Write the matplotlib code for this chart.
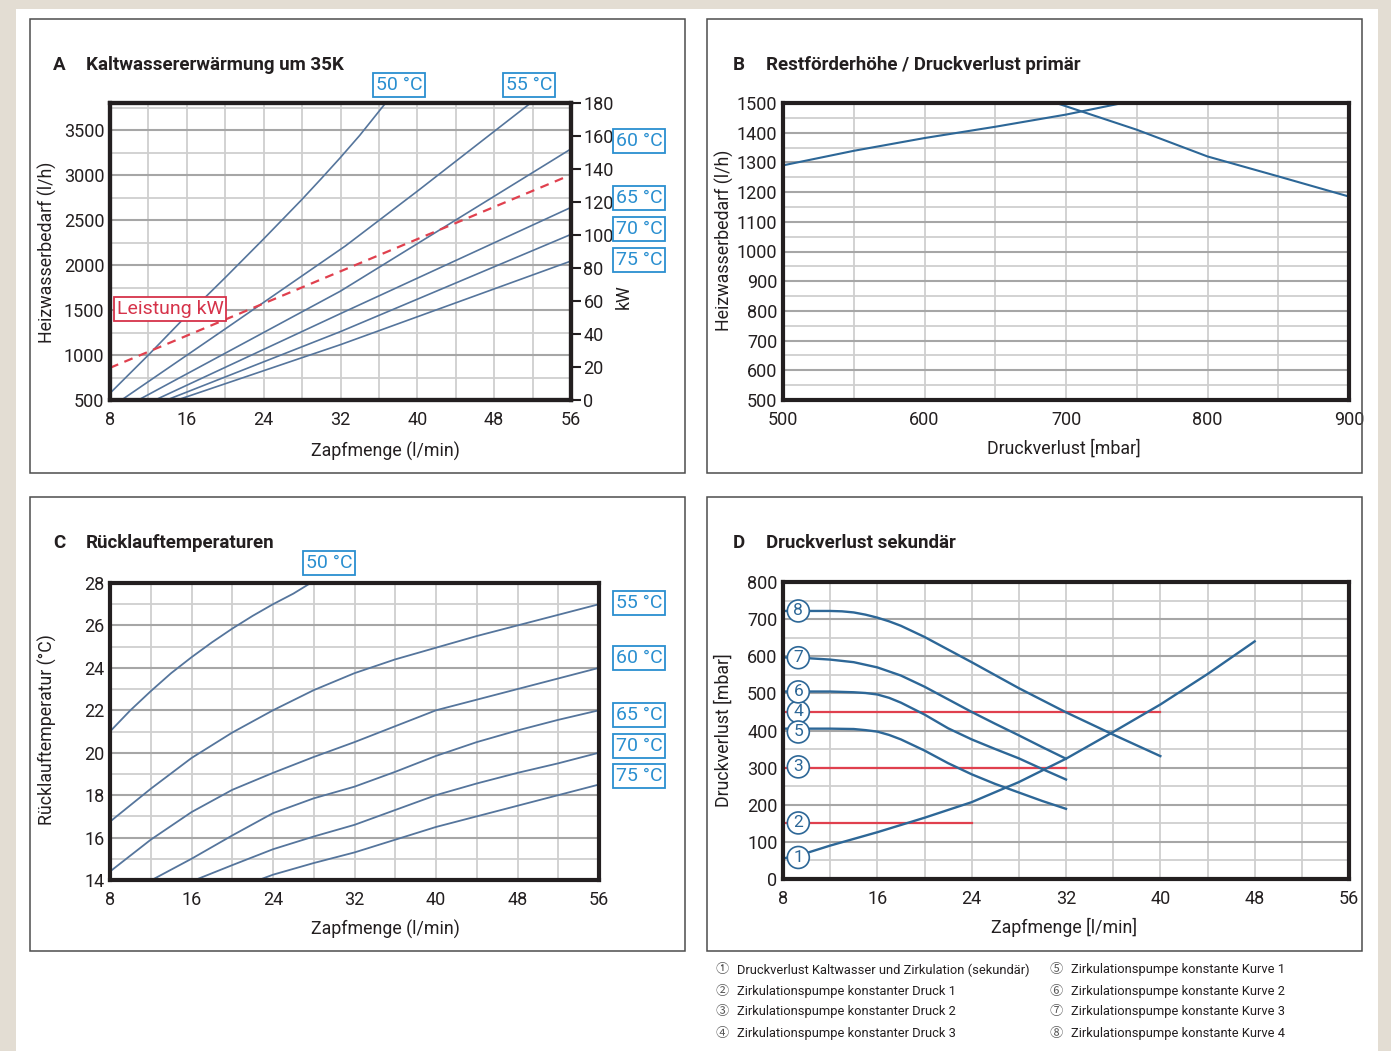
import matplotlib.pyplot as plt
import matplotlib.patches as patches
from matplotlib.ticker import MultipleLocator

W, H = 1391, 1051
plt.rcParams['font.family'] = ['Roboto', 'Noto Sans CJK JP', 'DejaVu Sans']

TXT = '#231f20'
GRID_MAJ = '#a6a6a6'
GRID_MIN = '#cfcfcf'
LINE_AC = '#55759c'
LINE_D = '#2d6797'
RED = '#e0404e'
CYAN = '#2a8fd0'
TICK_FS = 13
LABEL_FS = 12.8

# --- A: Kaltwassererwaermung um 35K (Zapfmenge l/min -> Heizwasserbedarf l/h) ---
a_x_50 = [8, 12, 16, 20, 24, 28, 30, 32, 34, 36.7]
a_y_50 = [575, 1000, 1440, 1860, 2290, 2730, 2960, 3195, 3440, 3800]
a_x_55 = [9.2, 20, 32.5, 40, 51.8]
a_y_55 = [500, 1290, 2211, 2820, 3800]
a_x_60 = [10.95, 32, 56]
a_y_60 = [500, 1710, 3290]
a_x_65 = [12.7, 32, 56]
a_y_65 = [500, 1460, 2640]
a_x_70 = [13.9, 32, 56]
a_y_70 = [500, 1260, 2340]
a_x_75 = [15, 32, 56]
a_y_75 = [500, 1115, 2044]
a_x_kw = [8, 56]
a_kw = [19.5, 136.5]
a_temps = ['50 °C', '55 °C', '60 °C', '65 °C', '70 °C', '75 °C']

# --- B: Restfoerderhoehe / Druckverlust primaer ---
b_x_up = [500, 550, 600, 650, 700, 740]
b_y_up = [1290, 1339, 1382, 1420, 1461, 1500]
b_x_down = [693, 700, 750, 800, 850, 900]
b_y_down = [1500, 1489, 1410, 1320, 1253, 1185]

# --- C: Ruecklauftemperaturen ---
c_x_50 = [8, 10, 12, 14, 16, 18, 20, 22, 24, 26, 27.7]
c_y_50 = [21, 22, 22.9, 23.75, 24.5, 25.2, 25.85, 26.45, 27.0, 27.5, 28]
c_x_55 = [8, 12, 16, 20, 24, 28, 32, 36, 40, 44, 48, 52, 56]
c_y_55 = [16.75, 18.3, 19.75, 20.95, 22.0, 22.95, 23.75, 24.4, 24.95, 25.5, 26, 26.5, 27]
c_x_60 = [8, 12, 16, 20, 24, 28, 32, 36, 40, 44, 48, 52, 56]
c_y_60 = [14.4, 15.9, 17.2, 18.25, 19.05, 19.8, 20.5, 21.25, 22, 22.5, 23, 23.5, 24]
c_x_65 = [12.1, 16, 20, 24, 28, 32, 36, 40, 44, 48, 52, 56]
c_y_65 = [14, 15, 16.1, 17.15, 17.85, 18.4, 19.1, 19.85, 20.5, 21.05, 21.55, 22]
c_x_70 = [16.35, 20, 24, 28, 32, 36, 40, 44, 48, 52, 56]
c_y_70 = [14, 14.7, 15.45, 16.05, 16.6, 17.3, 18, 18.55, 19.05, 19.5, 20]
c_x_75 = [22.6, 24, 28, 32, 36, 40, 44, 48, 52, 56]
c_y_75 = [14, 14.25, 14.8, 15.3, 15.9, 16.5, 17, 17.5, 18, 18.5]

# --- D: Druckverlust sekundaer ---
d_x_1 = [8, 10, 12, 14, 16, 20, 24, 28, 32, 36, 40, 44, 48]
d_y_1 = [55, 70, 90, 108, 126, 165, 207, 261, 324, 396, 470, 552, 640]
d_x_5 = [8, 12, 14, 15, 16, 17, 18, 20, 22, 24, 26, 28, 30, 32]
d_y_5 = [405, 405, 404, 401, 397, 388, 376, 346, 312, 282, 256, 233, 210, 189]
d_x_6 = [8, 12, 14, 15, 16, 17, 18, 20, 22, 24, 26, 28, 30, 32]
d_y_6 = [505, 505, 503, 501, 497, 488, 475, 443, 406, 376, 350, 325, 296, 268]
d_x_7 = [8, 10, 12, 14, 16, 18, 20, 22, 24, 26, 28, 30, 32]
d_y_7 = [597, 595, 591, 584, 570, 548, 518, 484, 450, 418, 387, 355, 324]
d_x_8 = [8, 12, 13, 14, 15, 16, 17, 18, 20, 22, 24, 28, 32, 36, 40]
d_y_8 = [722, 722, 721, 718, 712, 704, 694, 682, 652, 618, 584, 514, 449, 389, 331]
d_druck_level = [150, 300, 450]
d_druck_end = [24, 32, 40]
d_marker_num = ['1', '2', '3', '4', '5', '6', '7', '8']
d_marker_y = [58, 151, 302, 450, 396, 504, 596, 722]
legend_items = [
    'Druckverlust Kaltwasser und Zirkulation (sekundär)',
    'Zirkulationspumpe konstanter Druck 1',
    'Zirkulationspumpe konstanter Druck 2',
    'Zirkulationspumpe konstanter Druck 3',
    'Zirkulationspumpe konstante Kurve 1',
    'Zirkulationspumpe konstante Kurve 2',
    'Zirkulationspumpe konstante Kurve 3',
    'Zirkulationspumpe konstante Kurve 4',
]
legend_marks = ['①', '②', '③', '④', '⑤', '⑥', '⑦', '⑧']

fig = plt.figure(figsize=(W / 100, H / 100), dpi=100)
fig.patch.set_facecolor('#e3ddd3')
fig.add_artist(patches.Rectangle((16 / W, 0), (1378 - 16) / W, 1 - 9 / H,
                                 transform=fig.transFigure, fc='white', ec='none', zorder=0))


def fx(px):
    return px / W


def fy(py):
    return 1 - py / H


def panel_frame(l, t, r, b):
    fig.add_artist(patches.Rectangle((fx(l), fy(b)), (r - l) / W, (b - t) / H,
                                     transform=fig.transFigure, fill=False,
                                     ec='#4d4d4d', lw=1.1, zorder=1))


def make_axes(l, t, r, b):
    ax = fig.add_axes([fx(l), fy(b), (r - l) / W, (b - t) / H])
    for s in ax.spines.values():
        s.set_linewidth(3)
        s.set_color(TXT)
        s.set_zorder(5)
    ax.tick_params(which='both', length=0, labelsize=TICK_FS, colors=TXT)
    ax.tick_params(axis='y', pad=4)
    ax.tick_params(axis='x', pad=8)
    ax.set_axisbelow(True)
    return ax


def style_grid(ax, xmaj, xmin, ymaj, ymin):
    ax.xaxis.set_major_locator(MultipleLocator(xmaj))
    ax.xaxis.set_minor_locator(MultipleLocator(xmin))
    ax.yaxis.set_major_locator(MultipleLocator(ymaj))
    ax.yaxis.set_minor_locator(MultipleLocator(ymin))
    ax.grid(which='both', axis='x', color=GRID_MIN, lw=1.3)
    ax.grid(which='minor', axis='y', color=GRID_MIN, lw=1.3)
    ax.grid(which='major', axis='y', color=GRID_MAJ, lw=1.5)


def labels(ax, xlabel, xpos, ylabel, ypos):
    ax.set_xlabel(xlabel, fontsize=LABEL_FS, color=TXT)
    ax.set_ylabel(ylabel, fontsize=LABEL_FS, color=TXT)
    ax.xaxis.set_label_coords(fx(xpos[0]), fy(xpos[1]), transform=fig.transFigure)
    ax.yaxis.set_label_coords(fx(ypos[0]), fy(ypos[1]), transform=fig.transFigure)
    ax.xaxis.label.set_va('center')
    ax.yaxis.label.set_va('center')


def title(x, y, letter, text):
    fig.text(fx(x), fy(y), letter, fontsize=13.5, fontweight='bold', color=TXT, va='center')
    fig.text(fx(x + 33), fy(y), text, fontsize=13.5, fontweight='bold', color=TXT, va='center')


def temp_box(x, y, text, color=CYAN):
    fig.text(fx(x), fy(y), text, fontsize=14, color=color, ha='center', va='center',
             bbox=dict(boxstyle='square,pad=0.14', fc='white', ec=color, lw=1.3))


# ---------- Panel A ----------
panel_frame(30, 19, 685, 473)
title(53, 65, 'A', 'Kaltwassererwärmung um 35K')
axA = make_axes(110, 103, 571, 400)
axA.set_xlim(8, 56)
axA.set_ylim(500, 3800)
style_grid(axA, 8, 4, 500, 250)
for xs, ys in [(a_x_50, a_y_50), (a_x_55, a_y_55), (a_x_60, a_y_60),
               (a_x_65, a_y_65), (a_x_70, a_y_70), (a_x_75, a_y_75)]:
    axA.plot(xs, ys, color=LINE_AC, lw=1.2)
labels(axA, 'Zapfmenge (l/min)', (385, 451), 'Heizwasserbedarf (l/h)', (47, 252))
axA2 = axA.twinx()
axA2.set_ylim(0, 180)
axA2.yaxis.set_major_locator(MultipleLocator(20))
axA2.plot(a_x_kw, a_kw, color=RED, lw=1.6, ls=(0, (4, 3)))
for s in axA2.spines.values():
    s.set_linewidth(3)
    s.set_color(TXT)
axA2.tick_params(axis='y', direction='out', length=7, width=1.5, pad=2,
                 labelsize=TICK_FS, colors=TXT)
axA2.set_ylabel('kW', fontsize=LABEL_FS, color=TXT)
axA2.yaxis.set_label_coords(fx(624), fy(297), transform=fig.transFigure)
axA2.yaxis.label.set_va('center')
temp_box(399, 85, a_temps[0])
temp_box(529, 85, a_temps[1])
temp_box(639, 141, a_temps[2])
temp_box(639, 198, a_temps[3])
temp_box(639, 229, a_temps[4])
temp_box(639, 260, a_temps[5])
temp_box(170, 309, 'Leistung kW', color='#d6334a')

# ---------- Panel B ----------
panel_frame(707, 19, 1362, 473)
title(733, 65, 'B', 'Restförderhöhe / Druckverlust primär')
axB = make_axes(783, 103, 1349, 400)
axB.set_xlim(500, 900)
axB.set_ylim(500, 1500)
style_grid(axB, 100, 50, 100, 50)
axB.plot(b_x_up, b_y_up, color=LINE_D, lw=1.5)
axB.plot(b_x_down, b_y_down, color=LINE_D, lw=1.5)
labels(axB, 'Druckverlust [mbar]', (1064, 449), 'Heizwasserbedarf (l/h)', (724, 240))
xt = axB.get_xticklabels()
xt[-1].set_ha('right')
xt[-1].set_x(900)

# ---------- Panel C ----------
panel_frame(30, 497, 685, 951)
title(53, 543, 'C', 'Rücklauftemperaturen')
axC = make_axes(110, 583, 599, 880)
axC.set_xlim(8, 56)
axC.set_ylim(14, 28)
style_grid(axC, 8, 4, 2, 1)
for xs, ys in [(c_x_50, c_y_50), (c_x_55, c_y_55), (c_x_60, c_y_60),
               (c_x_65, c_y_65), (c_x_70, c_y_70), (c_x_75, c_y_75)]:
    axC.plot(xs, ys, color=LINE_AC, lw=1.3)
labels(axC, 'Zapfmenge (l/min)', (385, 929), 'Rücklauftemperatur (°C)', (47, 730))
temp_box(329, 563, a_temps[0])
temp_box(639, 603, a_temps[1])
temp_box(639, 658, a_temps[2])
temp_box(639, 715, a_temps[3])
temp_box(639, 746, a_temps[4])
temp_box(639, 776, a_temps[5])

# ---------- Panel D ----------
panel_frame(707, 497, 1362, 951)
title(733, 543, 'D', 'Druckverlust sekundär')
axD = make_axes(783, 582, 1349, 879)
axD.set_xlim(8, 56)
axD.set_ylim(0, 800)
style_grid(axD, 8, 4, 100, 50)
for lvl, end in zip(d_druck_level, d_druck_end):
    axD.plot([8, end], [lvl, lvl], color=RED, lw=1.6)
for xs, ys in [(d_x_1, d_y_1), (d_x_5, d_y_5), (d_x_6, d_y_6),
               (d_x_7, d_y_7), (d_x_8, d_y_8)]:
    axD.plot(xs, ys, color=LINE_D, lw=1.7)
for num, yv in zip(d_marker_num, d_marker_y):
    axD.text(9.3, yv, num, fontsize=12.5, color=LINE_D, ha='center', va='center', zorder=6,
             bbox=dict(boxstyle='circle,pad=0.2', fc='white', ec=LINE_D, lw=1.2))
labels(axD, 'Zapfmenge [l/min]', (1064, 927), 'Druckverlust [mbar]', (724, 730))

# legend below panel D
for i, (mark, item) in enumerate(zip(legend_marks, legend_items)):
    col = i // 4
    row = i % 4
    x0 = 722 if col == 0 else 1056
    y0 = 970 + row * 21
    fig.text(fx(x0), fy(y0), mark, fontsize=9.5, color='#555555', ha='center', va='center')
    fig.text(fx(x0 + 15), fy(y0), item, fontsize=9.3, color=TXT, va='center')

fig.savefig('out.png', dpi=100, facecolor=fig.get_facecolor())
